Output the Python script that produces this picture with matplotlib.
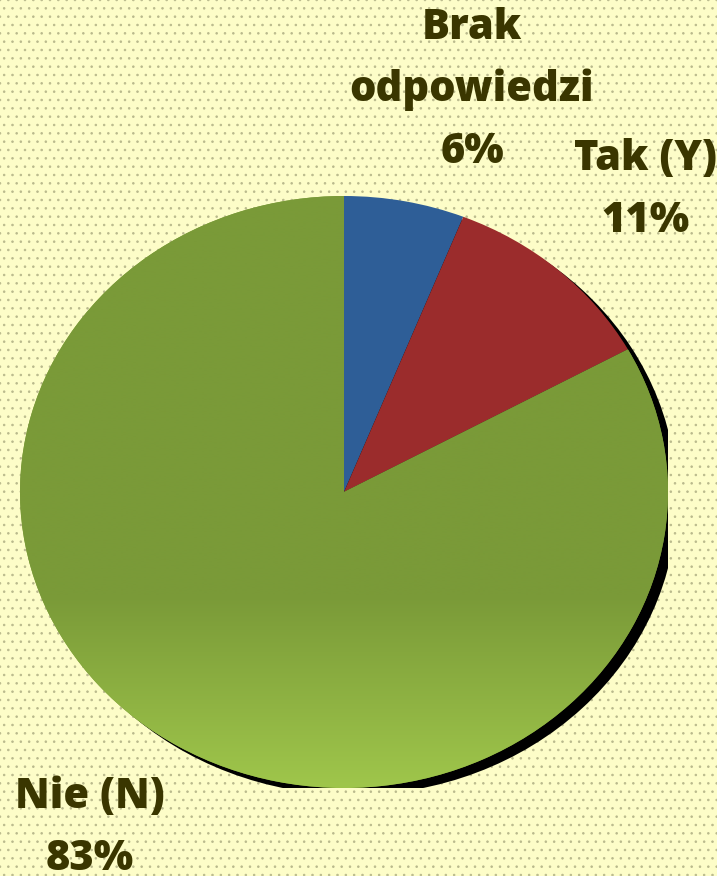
import numpy as np
import matplotlib.pyplot as plt
from matplotlib.patches import Ellipse, Rectangle
from matplotlib.colors import to_rgb

# --- Data ---
labels = ["Brak\nodpowiedzi", "Tak (Y)", "Nie (N)"]
shares = [6, 11, 83]
colors = ["#2e5e97", "#9b2c2c", "#7a9a38"]

TEXT_COLOR = "#3a3600"
BG_COLOR = "#fdfdc8"

plt.rcParams["hatch.linewidth"] = 0.6

W, H = 717, 876
fig = plt.figure(figsize=(W / 100, H / 100), dpi=100)
fig.patch.set_facecolor(BG_COLOR)

# dotted paper background
bg = Rectangle((0, 0), 1, 1, transform=fig.transFigure, facecolor=BG_COLOR,
               edgecolor="#b9b98c", hatch="..", linewidth=0, zorder=-10)
fig.patches.append(bg)

# pie drawn as an ellipse: axes box sized to the ellipse bounding box
cx, cy, rx, ry = 344, 492, 324, 296
ax = fig.add_axes([(cx - rx) / W, (H - cy - ry) / H, 2 * rx / W, 2 * ry / H])
ax.axis("off")

# black shadow offset down/right
shadow = Ellipse((9 / rx, -7 / ry), 2, 2, facecolor="black", edgecolor="none", zorder=0)
ax.add_patch(shadow)

wedges, _ = ax.pie(shares, colors=colors, startangle=90, counterclock=False,
                   radius=1, wedgeprops=dict(linewidth=0), frame=False)
for w in wedges:
    w.set_zorder(1)

# gradient on the large green slice, lighter toward the bottom
top_c = np.array(to_rgb("#7a9a38"))
bot_c = np.array(to_rgb("#9fc64b"))
ys = np.linspace(1, -1, 400)
t = np.clip((-0.35 - ys) / 0.65, 0, 1)[:, None]
grad = (top_c * (1 - t) + bot_c * t)[:, None, :]
im = ax.imshow(grad, extent=[-1, 1, -1, 1], aspect="auto", zorder=2, interpolation="bilinear")
im.set_clip_path(wedges[2])
ax.set_xlim(-1, 1)
ax.set_ylim(-1, 1)
ax.set_aspect("auto")

# labels
label_pos = [(472, 90), (645, 190), (90, 828)]
for lab, val, (px, py) in zip(labels, shares, label_pos):
    fig.text(px / W, 1 - py / H, f"{lab}\n{val}%", ha="center", va="center",
             fontsize=30, fontweight=800, family="Open Sans", color=TEXT_COLOR,
             linespacing=1.6)

fig.savefig("out.png", dpi=100, facecolor=BG_COLOR)
